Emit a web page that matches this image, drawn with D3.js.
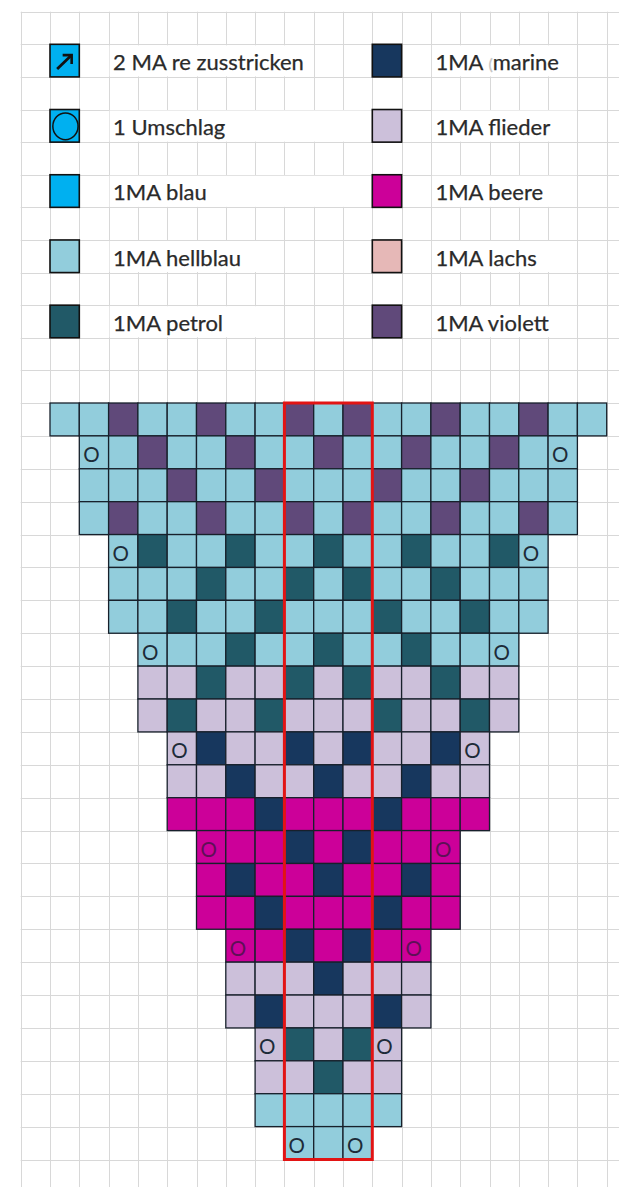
<!DOCTYPE html>
<html>
<head>
<meta charset="utf-8">
<script src="https://cdn.jsdelivr.net/npm/d3@7"></script>
<style>
  body { margin:0; background:#fff; }
  svg { display:block; }
  .legend text { font-family: Lato, "Open Sans", sans-serif; fill:#2a2a2a; stroke:#2a2a2a; stroke-width:0.25; }
  .chart text { font-family: Lato, "Open Sans", sans-serif; }
</style>
</head>
<body>
<script>
// yarn colours (Excel palette)
const colors = {
  blau:'#00b0f0', hellblau:'#92cddc', petrol:'#215967', marine:'#17375e',
  flieder:'#ccc0da', beere:'#cc0099', lachs:'#e6b8b7', violett:'#60497a'
}
const codes = {L:'hellblau', P:'petrol', M:'marine', F:'flieder', B:'beere', V:'violett'}

// legend: [grid row, label, colour key, icon]
const legendLeft = [
  [1,'2 MA re zusstricken','blau','arrow'],
  [3,'1 Umschlag','blau','circle'],
  [5,'1MA blau','blau',null],
  [7,'1MA hellblau','hellblau',null],
  [9,'1MA petrol','petrol',null]
]
const legendRight = [
  [1,'1MA marine','marine'],
  [3,'1MA flieder','flieder'],
  [5,'1MA beere','beere'],
  [7,'1MA lachs','lachs'],
  [9,'1MA violett','violett']
]
// white text cells in the legend: [row, first col, last col]
const textCells = [[1,3,9],[3,3,11],[5,3,11],[7,3,8],[9,3,8],
  [1,14,18],[3,14,18],[5,14,18],[7,14,18],[9,14,18]]

// chart rows, chart columns 1..19 (grid columns), '.' = no stitch
const chartRows = [
  'LLVLLVLLVLVLLVLLVLL',
  '.LLVLLVLLVLLVLLVLL.',
  '.LLLVLLVLLLVLLVLLL.',
  '.LVLLVLLVLVLLVLLVL.',
  '..LPLLPLLPLLPLLPL..',
  '..LLLPLLPLPLLPLLL..',
  '..LLPLLPLLLPLLPLL..',
  '...LLLPLLPLLPLLL...',
  '...FFPFFPFPFFPFF...',
  '...FPFFPFFFPFFPF...',
  '....FMFFMFMFFMF....',
  '....FFMFFMFFMFF....',
  '....BBBMBBBMBBB....',
  '.....BBBMBMBBB.....',
  '.....BMBBMBBMB.....',
  '.....BBMBBBMBB.....',
  '......BBMBMBB......',
  '......FFFMFFF......',
  '......FMFFFMF......',
  '.......FPFPF.......',
  '.......FFPFF.......',
  '.......LLLLL.......',
  '........LLL........'
]
// yarn-overs (Umschlag): [chart row, grid col]
const umschlag = [[1,2],[1,18],[4,3],[4,17],[7,4],[7,16],[10,5],[10,15],
  [13,6],[13,14],[16,7],[16,13],[19,8],[19,12],[22,9],[22,11]]
const chartTop = 12          // grid row where the chart starts
const marked = [9, 11]       // red frame: grid columns 9..11

const W = 619, H = 1187
const x = d3.scaleLinear().domain([0,1]).range([20.7,50])
const y = d3.scaleLinear().domain([0,12,35]).range([11.7,403,1159.5])
const cw = x(1)-x(0)
const rh = r => y(r+1)-y(r)

const svg = d3.select('body').append('svg').attr('width',W).attr('height',H)

// spreadsheet grid
const $grid = svg.append('g').attr('stroke','#d8d8d8').attr('stroke-width',1)
$grid.selectAll('line.v').data(d3.range(0,21)).enter().append('line')
  .attr('x1',c => Math.round(x(c))+0.5).attr('x2',c => Math.round(x(c))+0.5)
  .attr('y1',y(0)).attr('y2',H)
$grid.selectAll('line.h').data(d3.range(0,36)).enter().append('line')
  .attr('x1',x(0)).attr('x2',W)
  .attr('y1',r => Math.round(y(r))+0.5).attr('y2',r => Math.round(y(r))+0.5)

// legend
const $legend = svg.append('g').classed('legend',true)
$legend.selectAll('rect.bg').data(textCells).enter().append('rect')
  .attr('x',d => x(d[1])+1).attr('y',d => y(d[0])+1)
  .attr('width',d => x(d[2]+1)-x(d[1])-1.5).attr('height',d => rh(d[0])-1.5)
  .attr('fill','#fff')

const items = legendLeft.map(d => ({row:d[0],label:d[1],color:d[2],icon:d[3],col:1}))
  .concat(legendRight.map(d => ({row:d[0],label:d[1],color:d[2],icon:null,col:12})))

$legend.selectAll('rect.sw').data(items).enter().append('rect')
  .attr('x',d => x(d.col)).attr('y',d => y(d.row))
  .attr('width',cw).attr('height',d => rh(d.row))
  .attr('fill',d => colors[d.color]).attr('stroke','#111').attr('stroke-width',1.6)

items.forEach(d => {
  const cx = x(d.col)+cw/2, cy = y(d.row)+rh(d.row)/2
  if(d.icon == 'arrow'){
    $legend.append('path')
      .attr('d',`M${cx-7.5},${cy+8.5}L${cx+6},${cy-4.5}`)
      .attr('stroke','#111').attr('stroke-width',2.8).attr('fill','none')
    $legend.append('path')
      .attr('d',`M${cx-2},${cy-5.5}L${cx+7},${cy-5.5}L${cx+7},${cy+3.5}`)
      .attr('stroke','#111').attr('stroke-width',2.6).attr('fill','none')
  } else if(d.icon == 'circle'){
    $legend.append('ellipse').attr('cx',cx+0.8).attr('cy',cy+0.5)
      .attr('rx',12.6).attr('ry',13.4)
      .attr('stroke','#111').attr('stroke-width',1.5).attr('fill','none')
  }
})

const labels = $legend.selectAll('text').data(items).enter().append('text')
  .attr('x',d => x(d.col+2)+4.5).attr('y',d => y(d.row+1)-7)
  .attr('font-size',22)
labels.each(function(d){
  const t = d3.select(this)
  if(d.color == 'marine'){
    t.append('tspan').text('1MA ')
    t.append('tspan').text('(').attr('fill','#c4c4c4').attr('stroke','#c4c4c4').attr('font-size',16)
    t.append('tspan').text('marine')
  } else t.text(d.label)
})

// chart
const $chart = svg.append('g').classed('chart',true)
const cells = []
chartRows.forEach((row,r) => row.split('').forEach((k,i) => {
  if(k != '.') cells.push({r:r, c:i+1, color:codes[k]})
}))
$chart.selectAll('rect').data(cells).enter().append('rect')
  .attr('x',d => x(d.c)).attr('y',d => y(chartTop+d.r))
  .attr('width',cw).attr('height',d => rh(chartTop+d.r))
  .attr('fill',d => colors[d.color])
  .attr('stroke','#17202b').attr('stroke-width',1.3)

$chart.selectAll('text').data(umschlag).enter().append('text')
  .attr('x',d => x(d[1])+4).attr('y',d => y(chartTop+d[0]+1)-6.5)
  .attr('font-size',20.5)
  .attr('fill',d => chartRows[d[0]][d[1]-1]=='B' ? '#5e1056' : '#1d2b38')
  .text('O')

// red frame round the centre columns
$chart.append('rect')
  .attr('x',x(marked[0])).attr('y',y(chartTop))
  .attr('width',x(marked[1]+1)-x(marked[0]))
  .attr('height',y(chartTop+chartRows.length)-y(chartTop))
  .attr('fill','none').attr('stroke','#e21414').attr('stroke-width',3)
</script>
</body>
</html>
